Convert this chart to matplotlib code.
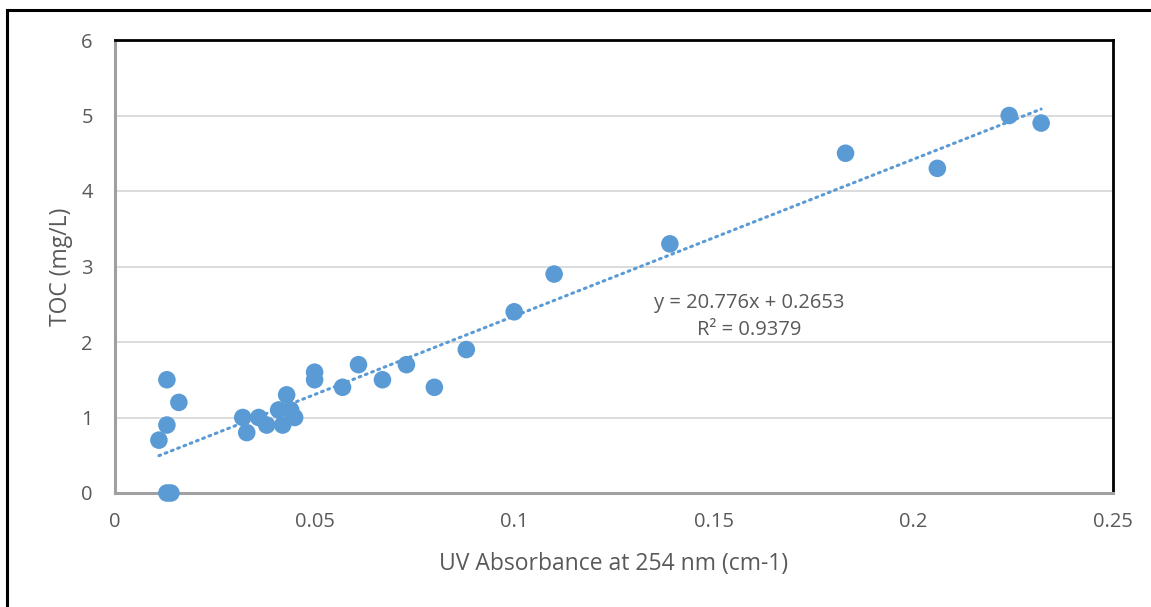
import numpy as np
import matplotlib
matplotlib.use('Agg')
import matplotlib.pyplot as plt
from matplotlib.lines import Line2D

# UV absorbance at 254 nm vs TOC
uv_abs = [0.013, 0.014, 0.013, 0.016, 0.013, 0.011, 0.032, 0.033, 0.036, 0.038,
          0.041, 0.043, 0.044, 0.045, 0.042, 0.050, 0.050, 0.057, 0.061, 0.067,
          0.073, 0.080, 0.088, 0.100, 0.110, 0.139, 0.183, 0.206, 0.224, 0.232]
toc = [0.0, 0.0, 1.5, 1.2, 0.9, 0.7, 1.0, 0.8, 1.0, 0.9,
       1.1, 1.3, 1.1, 1.0, 0.9, 1.6, 1.5, 1.4, 1.7, 1.5,
       1.7, 1.4, 1.9, 2.4, 2.9, 3.3, 4.5, 4.3, 5.0, 4.9]

slope = 20.776
intercept = 0.2653
r2 = 0.9379

x_ticks = [0, 0.05, 0.1, 0.15, 0.2, 0.25]
x_tick_labels = ['0', '0.05', '0.1', '0.15', '0.2', '0.25']
y_ticks = [0, 1, 2, 3, 4, 5, 6]

blue = '#5B9BD5'
txt = '#595959'
plt.rcParams['font.family'] = ['Open Sans', 'DejaVu Sans']

fig = plt.figure(figsize=(11.51, 6.07), dpi=100)
ax = fig.add_axes([115 / 1151, 1 - 493 / 607, (1113 - 115) / 1151, (493 - 40) / 607])

ax.set_xlim(0, 0.25)
ax.set_ylim(0, 6)
ax.set_xticks(x_ticks)
ax.set_xticklabels(x_tick_labels)
ax.set_yticks(y_ticks)
ax.yaxis.grid(True, color='#D9D9D9', linewidth=1.3)
ax.set_axisbelow(True)
ax.tick_params(axis='y', length=0, labelsize=14.5, labelcolor=txt, pad=16)
ax.tick_params(axis='x', length=0, labelsize=14.5, labelcolor=txt, pad=14)

for s in ['left', 'bottom']:
    ax.spines[s].set_color('#A0A0A0')
    ax.spines[s].set_linewidth(2.2)
for s in ['top', 'right']:
    ax.spines[s].set_color('black')
    ax.spines[s].set_linewidth(2.0)

# trendline
xs = np.array([min(uv_abs), max(uv_abs)])
ax.plot(xs, slope * xs + intercept, color=blue, linewidth=2.2,
        linestyle=(0, (0.6, 1.6)), dash_capstyle='round', zorder=2)

ax.scatter(uv_abs, toc, s=160, color=blue, edgecolors='none', zorder=3, clip_on=False)

ax.text(0.1588, 2.34, 'y = 20.776x + 0.2653\nR² = 0.9379', ha='center', va='center',
        fontsize=14.5, color=txt, linespacing=1.45)

ax.set_xlabel('UV Absorbance at 254 nm (cm-1)', fontsize=16.5, color=txt, labelpad=14)
ax.set_ylabel('TOC (mg/L)', fontsize=16.5, color=txt, labelpad=6)

# outer chart border (only left and top visible)
fig.add_artist(Line2D([7 / 1151, 7 / 1151], [0, 1 - 10 / 607], color='black', linewidth=2.2,
                      transform=fig.transFigure))
fig.add_artist(Line2D([7 / 1151, 1], [1 - 10 / 607, 1 - 10 / 607], color='black', linewidth=2.2,
                      transform=fig.transFigure))

fig.savefig('out.png', dpi=100)
